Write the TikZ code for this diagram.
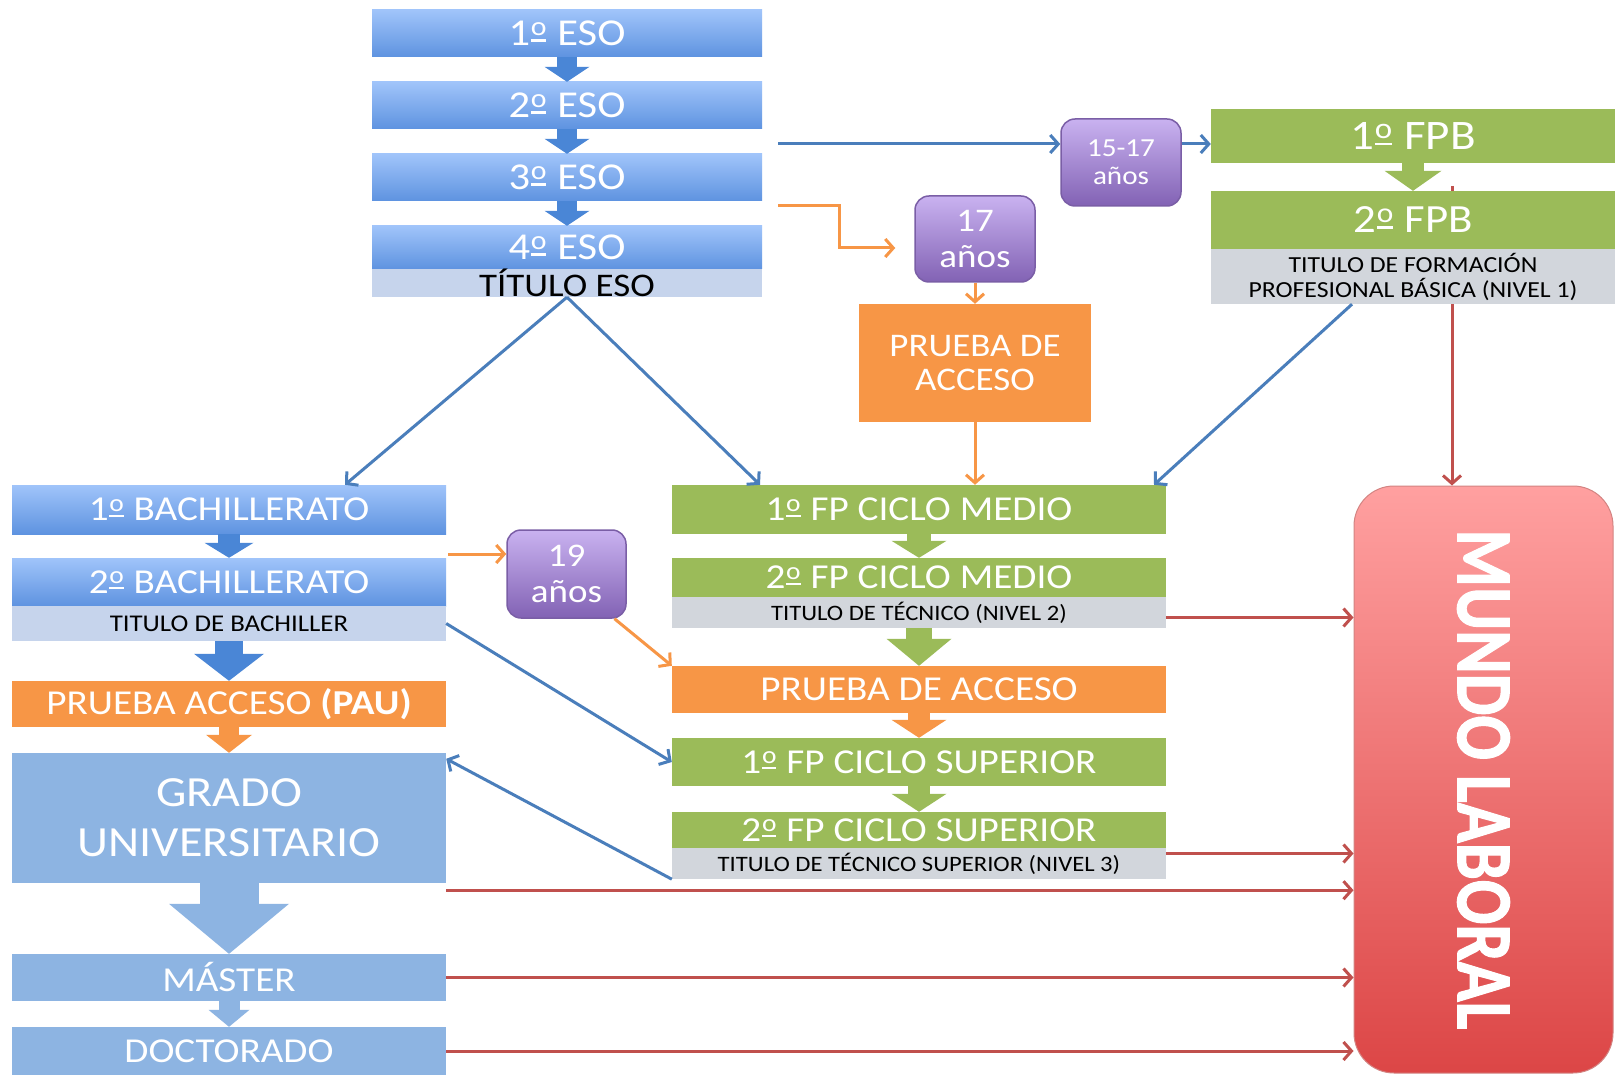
\documentclass[tikz,border=0pt]{standalone}
\usepackage{fontspec}
\setmainfont{Carlito}[FakeStretch=1.12]
\newfontfamily\mundofont{Carlito}[BoldFeatures={FakeBold=1.6}]
\usepackage{graphicx}
\usepackage{tikz}
\usetikzlibrary{arrows.meta}

% indicador ordinal con subrayado
\newcommand\ordm{\kern0.02em\rlap{\rule[0.11em]{0.41em}{0.055em}}\raisebox{0.27em}{\scalebox{0.7}{o}}\kern0.03em}

\definecolor{esotop}{HTML}{A0C4FA}
\definecolor{esobot}{HTML}{5E93E0}
\definecolor{esoflecha}{HTML}{4A86D6}
\definecolor{titgris}{HTML}{C6D4EC}
\definecolor{fpgris}{HTML}{D2D6DC}
\definecolor{verdefp}{HTML}{9BBB59}
\definecolor{naranjafp}{HTML}{F79646}
\definecolor{unicolor}{HTML}{8DB4E2}
\definecolor{moradotop}{HTML}{C9B2F0}
\definecolor{moradobot}{HTML}{8262B4}
\definecolor{moradoborde}{HTML}{7A5EA6}
\definecolor{rojotop}{HTML}{FFA0A0}
\definecolor{rojobot}{HTML}{DC4646}
\definecolor{lineaazul}{HTML}{4A7EBB}
\definecolor{linearoja}{HTML}{C0504D}
\definecolor{lineanaranja}{HTML}{F79646}

\tikzset{
  caja/.style={rectangle, inner sep=0pt, text=white},
  azul/.style={caja, top color=esotop, bottom color=esobot},
  verde/.style={caja, fill=verdefp},
  naranja/.style={caja, fill=naranjafp},
  titulo/.style={caja, fill=titgris, text=black},
  titulofp/.style={caja, fill=fpgris, text=black},
  uni/.style={caja, fill=unicolor},
  edad/.style={caja, rounded corners=14pt, draw=moradoborde, line width=1.5pt,
    top color=moradotop, bottom color=moradobot, align=center},
  grande/.style={font=\fontsize{35}{38}\selectfont},
  chico/.style={font=\fontsize{22}{25}\selectfont},
  bloque/.style n args={4}{draw=#1, line width=#2,
    -{Triangle[width=#3, length=#4, line width=0pt]}},
  flecha/.style={draw=#1, line width=3pt, -{Straight Barb[length=8pt, width=18pt]}},
}

\begin{document}
\begin{tikzpicture}[x=1pt, y=-1pt]
\useasboundingbox (0,0) rectangle (1615,1075);
\fill[white] (0,0) rectangle (1615,1075);

% ESO
\node[azul, font=\fontsize{38}{40}\selectfont, minimum width=390, minimum height=47] (eso1) at (567,33.5) {1\ordm\ ESO};
\node[azul, font=\fontsize{38}{40}\selectfont, minimum width=390, minimum height=47] (eso2) at (567,105.5) {2\ordm\ ESO};
\node[azul, font=\fontsize{38}{40}\selectfont, minimum width=390, minimum height=47] (eso3) at (567,177.5) {3\ordm\ ESO};
\node[azul, font=\fontsize{38}{40}\selectfont, minimum width=390, minimum height=43] (eso4) at (567,247.5) {4\ordm\ ESO};
\node[titulo, font=\fontsize{33}{35}\selectfont, minimum width=390, minimum height=28] (titeso) at (567,283) {TÍTULO ESO};

% FP basica
\node[edad, font=\fontsize{26}{28}\selectfont, minimum width=120, minimum height=87] (p1517) at (1121,162.5) {15-17\\años};
\node[edad, font=\fontsize{33}{36}\selectfont, minimum width=120, minimum height=86] (p17) at (975,239) {17\\años};
\node[naranja, align=center, font=\fontsize{33}{34}\selectfont, minimum width=232, minimum height=118] (prueba) at (975,363) {PRUEBA DE\\ACCESO};
\node[verde, font=\fontsize{42}{44}\selectfont, minimum width=404, minimum height=54] (fpb1) at (1413,136) {1\ordm\ FPB};
\node[verde, font=\fontsize{40}{42}\selectfont, minimum width=404, minimum height=58] (fpb2) at (1413,220) {2\ordm\ FPB};
\node[titulofp, align=center, font=\fontsize{23}{25}\selectfont, minimum width=404, minimum height=55] (titfpb) at (1413,276.5) {TITULO DE FORMACIÓN\\PROFESIONAL BÁSICA (NIVEL 1)};

% bachillerato y universidad
\node[azul, grande, minimum width=434, minimum height=49] (bach1) at (229,509.5) {1\ordm\ BACHILLERATO};
\node[azul, grande, minimum width=434, minimum height=48] (bach2) at (229,582) {2\ordm\ BACHILLERATO};
\node[titulo, font=\fontsize{24}{26}\selectfont, minimum width=434, minimum height=35] (titbach) at (229,623.5) {TITULO DE BACHILLER};
\node[naranja, grande, minimum width=434, minimum height=46] (pau) at (229,704) {PRUEBA ACCESO \textbf{(PAU)}};
\node[uni, align=center, font=\fontsize{43}{50}\selectfont, minimum width=434, minimum height=130] (grado) at (229,818) {GRADO\\UNIVERSITARIO};
\node[uni, grande, minimum width=434, minimum height=47] (master) at (229,977.5) {MÁSTER};
\node[uni, grande, minimum width=434, minimum height=48] (doct) at (229,1051) {DOCTORADO};
\node[edad, font=\fontsize{33}{36}\selectfont, minimum width=119, minimum height=88] (p19) at (566.5,574) {19\\años};

% ciclos formativos
\node[verde, grande, minimum width=494, minimum height=49] (cm1) at (919,509.5) {1\ordm\ FP CICLO MEDIO};
\node[verde, grande, minimum width=494, minimum height=39] (cm2) at (919,577.5) {2\ordm\ FP CICLO MEDIO};
\node[titulofp, chico, minimum width=494, minimum height=31] (titcm) at (919,612.5) {TITULO DE TÉCNICO (NIVEL 2)};
\node[naranja, grande, minimum width=494, minimum height=47] (pacc) at (919,689.5) {PRUEBA DE ACCESO};
\node[verde, grande, minimum width=494, minimum height=48] (cs1) at (919,762) {1\ordm\ FP CICLO SUPERIOR};
\node[verde, grande, minimum width=494, minimum height=36] (cs2) at (919,830) {2\ordm\ FP CICLO SUPERIOR};
\node[titulofp, chico, minimum width=494, minimum height=31] (titcs) at (919,863.5) {TITULO DE TÉCNICO SUPERIOR (NIVEL 3)};

% mundo laboral
\node[caja, rounded corners=40pt, draw=linearoja!70, line width=1pt, top color=rojotop, bottom color=rojobot,
  minimum width=259, minimum height=587] (mundo) at (1483.5,779.5) {};
\node[rotate=-90, text=white, font=\mundofont\bfseries\fontsize{66}{66}\selectfont] (mundotxt) at (mundo.center) {\scalebox{1}[1.2]{MUNDO LABORAL}};

% flechas de bloque
\draw[bloque={esoflecha}{20pt}{45pt}{15pt}] (eso1) -- (eso2);
\draw[bloque={esoflecha}{20pt}{45pt}{15pt}] (eso2) -- (eso3);
\draw[bloque={esoflecha}{20pt}{45pt}{15pt}] (eso3) -- (eso4);
\draw[bloque={verdefp}{22pt}{57pt}{20pt}] (fpb1) -- (fpb2);
\draw[bloque={esoflecha}{22pt}{49pt}{15pt}] (bach1) -- (bach2);
\draw[bloque={esoflecha}{28pt}{70pt}{27pt}] (titbach) -- (pau);
\draw[bloque={naranjafp}{20pt}{46pt}{18pt}] (pau) -- (grado);
\draw[bloque={unicolor}{59pt}{120pt}{50pt}] (grado) -- (master);
\draw[bloque={unicolor}{21pt}{41pt}{17pt}] (master) -- (doct);
\draw[bloque={verdefp}{24pt}{55pt}{17pt}] (cm1) -- (cm2);
\draw[bloque={verdefp}{26pt}{65pt}{27pt}] (titcm) -- (pacc);
\draw[bloque={naranjafp}{22pt}{55pt}{18pt}] (pacc) -- (cs1);
\draw[bloque={verdefp}{22pt}{55pt}{18pt}] (cs1) -- (cs2);

% flechas azules
\coordinate (a1517) at (778,144);
\draw[flecha=lineaazul] (a1517) -- (a1517 -| p1517.west);
\draw[flecha=lineaazul] (a1517 -| p1517.east) -- (a1517 -| fpb1.west);
\draw[flecha=lineaazul] (titeso.south) -- ([xshift=116pt]bach1.north);
\draw[flecha=lineaazul] (titeso.south) -- ([xshift=-159pt]cm1.north);
\draw[flecha=lineaazul] ([xshift=-61pt]titfpb.south) -- ([xshift=235pt]cm1.north);
\draw[flecha=lineaazul] (titbach.east) -- (cs1.west);
\draw[flecha=lineaazul] (titcs.south west) -- ([yshift=-6pt]grado.north east);

% flechas naranjas
\coordinate (a17) at (778,206);
\coordinate (b17) at (839,248);
\draw[flecha=lineanaranja, shorten >=19pt] (a17) -| (b17) -- (b17 -| p17.west);
\draw[flecha=lineanaranja] (p17) -- (prueba);
\draw[flecha=lineanaranja] (prueba.south) -- (prueba.south |- cm1.north);
\coordinate (a19) at (448,554);
\draw[flecha=lineanaranja] (a19) -- (a19 -| p19.west);
\draw[flecha=lineanaranja] (p19.-43) -- (pacc.north west);

% flechas rojas
\coordinate (rfpb) at (1452,186);
\draw[linearoja, line width=3pt] (rfpb) -- (rfpb |- fpb2.north);
\draw[flecha=linearoja] (rfpb |- titfpb.south) -- (rfpb |- mundo.north);
\coordinate (rcm) at ([yshift=-5pt]titcm.east);
\draw[flecha=linearoja] (rcm) -- (rcm -| mundo.west);
\coordinate (rcs) at ([yshift=10pt]titcs.east);
\draw[flecha=linearoja] (rcs) -- (rcs -| mundo.west);
\coordinate (rgr) at ([yshift=-7pt]grado.south east);
\draw[flecha=linearoja] (rgr) -- (rgr -| mundo.west);
\draw[flecha=linearoja] (master.east) -- (master.east -| mundo.west);
\draw[flecha=linearoja] (doct.east) -- (doct.east -| mundo.west);
\end{tikzpicture}
\end{document}
